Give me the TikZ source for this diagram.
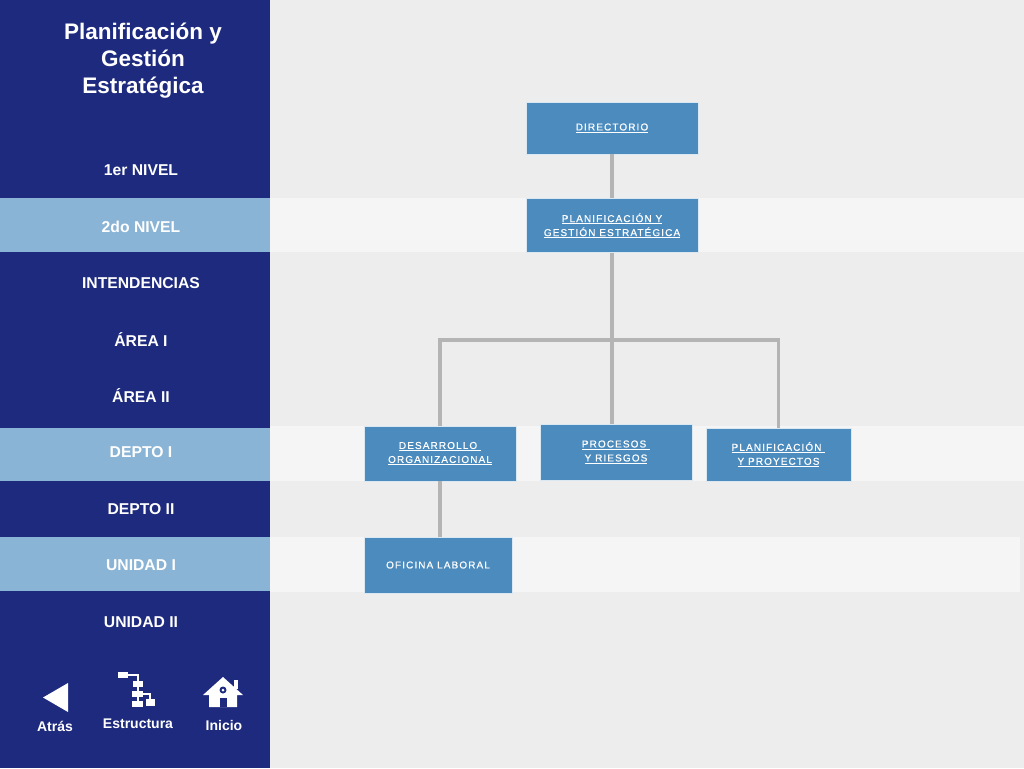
\documentclass[tikz,border=0pt]{standalone}
\usepackage{fontspec}
\setmainfont{Liberation Sans}
\newfontfamily\boxfont[LetterSpace=11,FakeBold=0.6]{Liberation Sans}
\usetikzlibrary{positioning,calc}
\definecolor{navy}{HTML}{1D2A7E}
\definecolor{bandblue}{HTML}{8AB4D5}
\definecolor{boxblue}{HTML}{4B8BBE}
\definecolor{paper}{HTML}{EDEDED}
\definecolor{strip}{HTML}{F5F5F5}
\definecolor{linkgrey}{HTML}{B4B4B4}
\tikzset{
  orgbox/.style={draw=white!80!boxblue,line width=0.8pt,fill=boxblue,text=white,align=center,inner sep=0pt,font=\boxfont\fontsize{10}{14}\selectfont},
  link/.style={draw=linkgrey,line width=3.5pt},
  lvl/.style={text=white,font=\bfseries\fontsize{15.7}{18}\selectfont},
  navtxt/.style={text=white,font=\bfseries\fontsize{14}{16}\selectfont},
}

\begin{document}
\begin{tikzpicture}[x=1pt,y=-1pt]
		% background and bands
		\fill[paper] (0,0) rectangle (1024,768);
		\fill[strip] (270,198) rectangle (1024,252);
		\fill[strip] (270,426) rectangle (1024,481);
		\fill[strip] (270,537) rectangle (1020,592);
		\fill[navy] (0,0) rectangle (270,768);
		\fill[bandblue] (0,198) rectangle (270,252);
		\fill[bandblue] (0,428) rectangle (270,481);
		\fill[bandblue] (0,537) rectangle (270,591);

		% left menu
		\node[text=white,align=center,font=\bfseries\fontsize{22.5}{27}\selectfont] (title) at (143,61) {Planificación y\\Gestión\\Estratégica};
		\foreach \txt [count=\i] in {1er NIVEL,2do NIVEL,INTENDENCIAS,ÁREA I,ÁREA II,DEPTO I,DEPTO II,UNIDAD I,UNIDAD II}
			\node[lvl] (lvl\i) at (141,{170+(\i-1)*56.5}) {\txt};

		% nav icons
		\fill[white] (68,683) -- (68,712) -- (43,697.5) -- cycle;
		\node[navtxt] (back) at (55,726) {Atrás};
		\fill[white] (118,672) rectangle (128,678);
		\fill[white] (133,681) rectangle (143,687);
		\fill[white] (132,691) rectangle (143,697);
		\fill[white] (132,701) rectangle (143,707);
		\fill[white] (146,699) rectangle (155,706);
		\draw[white,line width=1.5pt] (128,675) -- (138,675) -- (138,701);
		\draw[white,line width=1.5pt] (143,694) -- (150,694) -- (150,699);
		\node[navtxt] (struct) at (138,724) {Estructura};
		\fill[white] (234,680) rectangle (238,689);
		\fill[white] (203,695) -- (223,677) -- (243,695) -- (237,695) -- (237,707) -- (209,707) -- (209,695) -- cycle;
		\fill[navy] (219.5,698) rectangle (226.5,707);
		\fill[navy] (223,690) circle (3.5);
		\fill[white] (223,690) circle (1.5);
		\node[navtxt] (home) at (224,725) {Inicio};

		% chart
		\node[orgbox,minimum width=172pt,minimum height=52pt] (dir) at (612,128) {\underline{DIRECTORIO}};
		\node[orgbox,minimum width=172pt,minimum height=54pt,below=44pt of dir] (plan) {\underline{PLANIFICACIÓN Y}\\\underline{GESTIÓN ESTRATÉGICA}};
		\node[orgbox,minimum width=152pt,minimum height=55pt] (desa) at (440,453.5) {\underline{DESARROLLO\ }\\\underline{ORGANIZACIONAL}};
		\node[orgbox,minimum width=152pt,minimum height=56pt] (proc) at (616,452) {\underline{PROCESOS\ }\\\underline{Y RIESGOS}};
		\node[orgbox,minimum width=145pt,minimum height=53pt] (proy) at (778.5,454.5) {\underline{PLANIFICACIÓN\ }\\\underline{Y PROYECTOS}};
		\node[orgbox,minimum width=148pt,minimum height=56pt] (ofi) at (438,565) {OFICINA LABORAL};
		\coordinate (hub) at (612,340);

		\draw[link] (dir) -- (plan);
		\draw[link] (plan) -- (hub);
		\draw[link] (hub) -| (desa.north);
		\draw[link] (hub) -| (proy.north);
		\draw[link] (hub) -- (hub |- proc.north);
		\draw[link] (desa.south) -- (desa.south |- ofi.north);
	\end{tikzpicture}
\end{document}
